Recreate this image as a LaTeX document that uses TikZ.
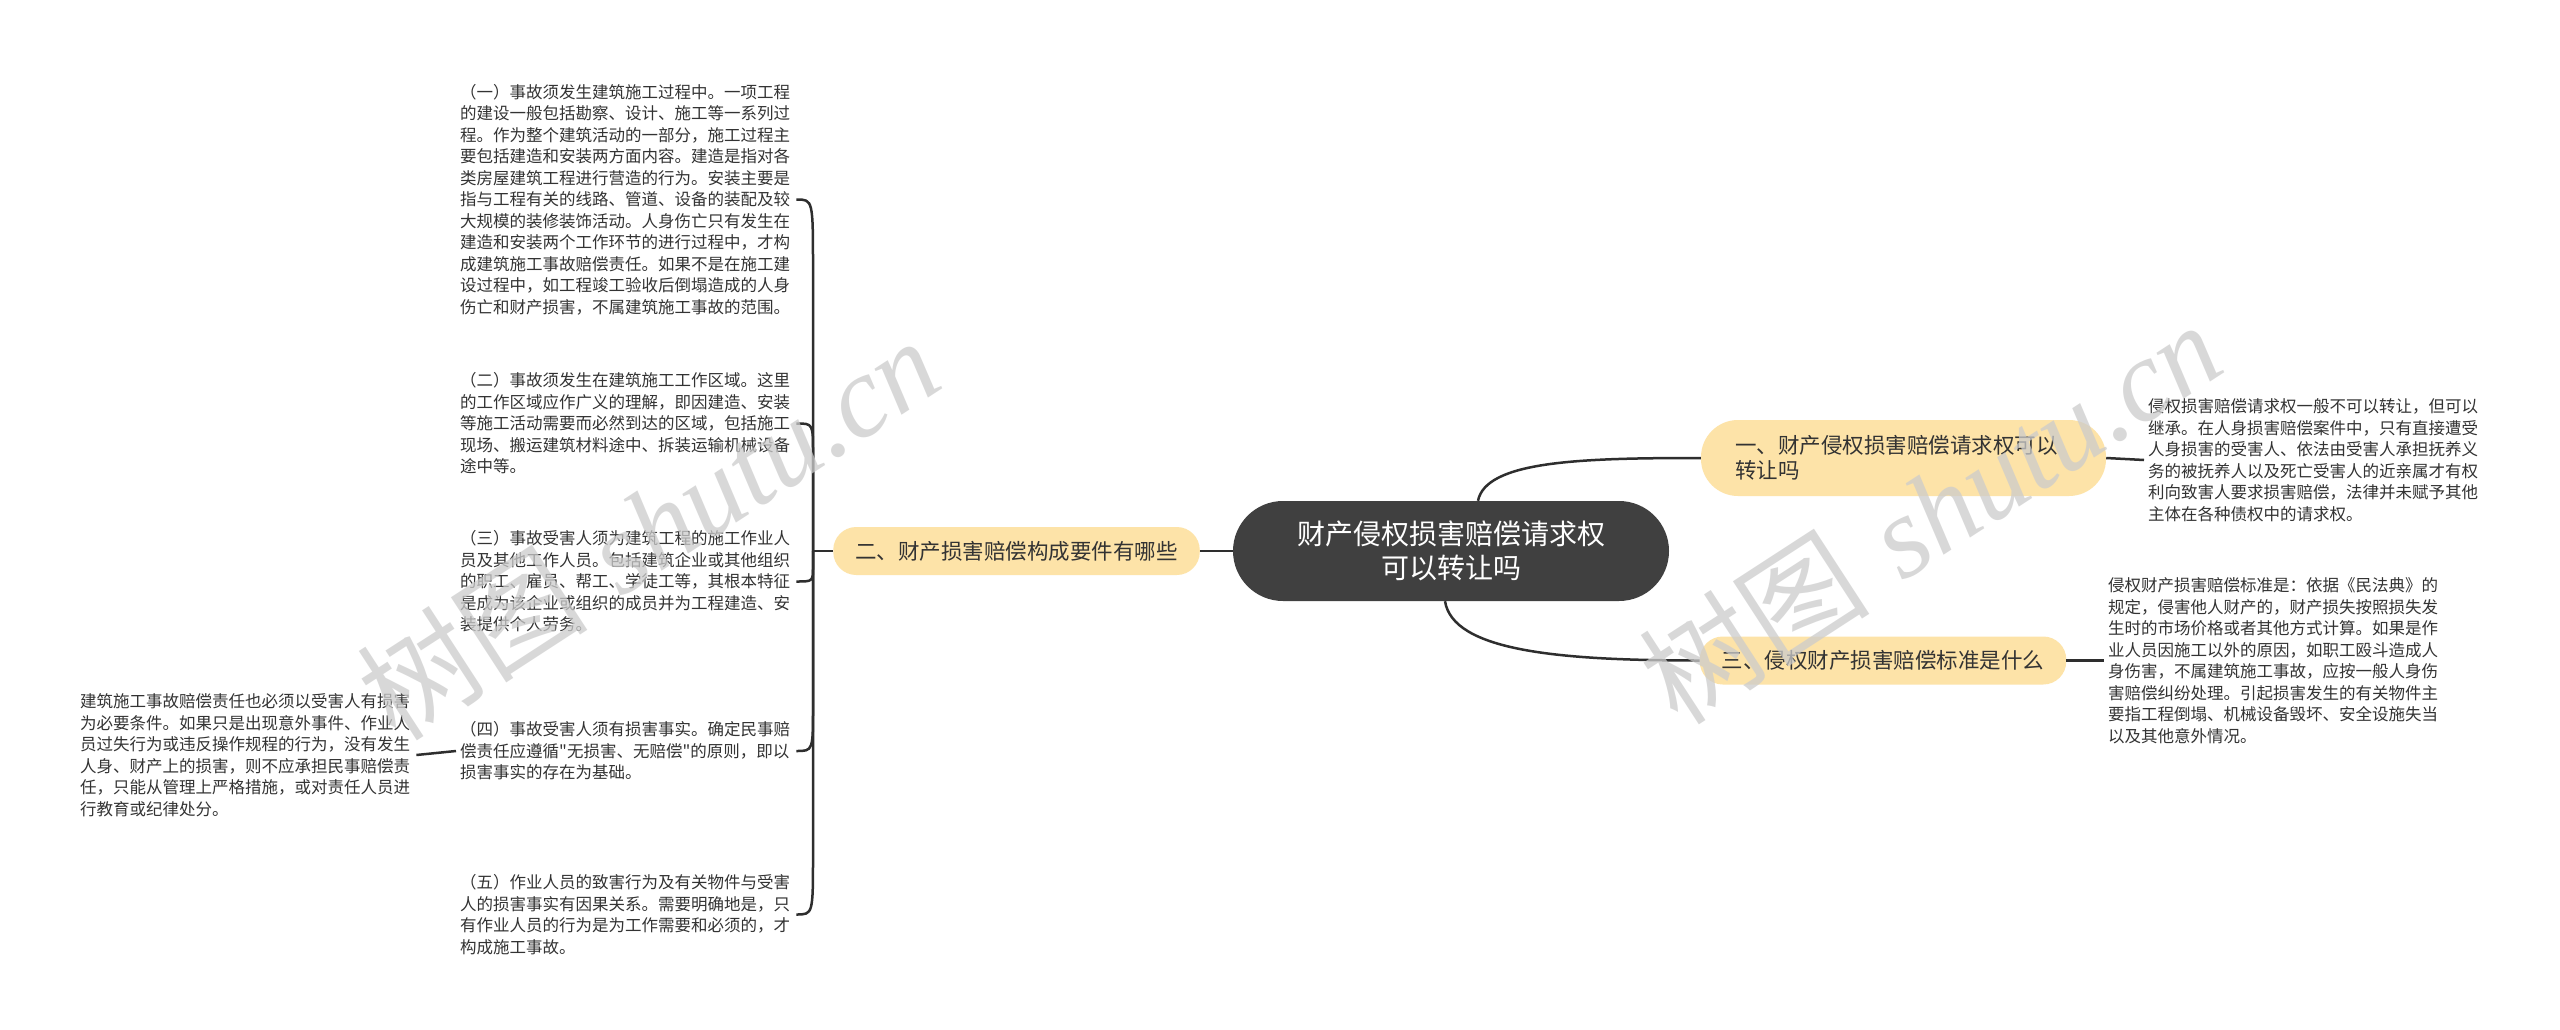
\documentclass[tikz,border=0pt]{standalone}
\usepackage{fontspec}
\usetikzlibrary{calc}
\newfontfamily\cjk{Noto Sans CJK SC}
\newfontfamily\wmfont{Liberation Serif}

\definecolor{rootgray}{HTML}{404040}
\definecolor{branchbg}{HTML}{FDE3A8}
\definecolor{linegray}{HTML}{2E2E2E}
\definecolor{textgray}{HTML}{333333}

\tikzset{
  root/.style={fill=rootgray, text=white, rounded corners=50pt, minimum width=436pt,
    minimum height=100pt, align=center, font=\cjk\fontsize{28}{34}\selectfont},
  branch/.style={fill=branchbg, text=textgray, rounded corners=23pt, minimum height=48pt,
    inner xsep=22pt, font=\cjk\fontsize{21.5}{25}\selectfont},
  leaf/.style={anchor=west, align=left, text width=332pt, inner xsep=4pt, inner ysep=0pt,
    text=textgray, font=\cjk\fontsize{16.5}{21.5}\selectfont},
  link/.style={draw=linegray, line width=2.5pt},
  wmark/.style={text=black!20, text opacity=0.75, rotate=33, font=\fontsize{116}{116}\selectfont}
}

% hook from the spine into a leaf; #2 = signed hook length
\newcommand\bracelink[2]{%
  \draw[link] (spine) -- ($(spine |- #1.east)+(0,#2)$) .. controls (spine |- #1.east) .. (#1.east);}

\begin{document}
\begin{tikzpicture}[x=1pt,y=-1pt]
\useasboundingbox (0,0) rectangle (2560,1030);
\fill[white] (0,0) rectangle (2560,1030);

\node[root] (root) at (1451,551) {财产侵权损害赔偿请求权\\可以转让吗};

\node[branch] (b2) at (1016.5,551) {二、财产损害赔偿构成要件有哪些};
\node[branch, rounded corners=37pt, minimum width=405pt, minimum height=76pt, text width=337pt,
  align=left] (b1) at (1903.5,458) {一、财产侵权损害赔偿请求权可以\\转让吗};
\node[branch] (b3) at (1883,660.5) {三、侵权财产损害赔偿标准是什么};

% left leaves
\node[leaf] (a1) at (456,199.5) {（一）事故须发生建筑施工过程中。一项工程\\的建设一般包括勘察、设计、施工等一系列过\\程。作为整个建筑活动的一部分，施工过程主\\要包括建造和安装两方面内容。建造是指对各\\类房屋建筑工程进行营造的行为。安装主要是\\指与工程有关的线路、管道、设备的装配及较\\大规模的装修装饰活动。人身伤亡只有发生在\\建造和安装两个工作环节的进行过程中，才构\\成建筑施工事故赔偿责任。如果不是在施工建\\设过程中，如工程竣工验收后倒塌造成的人身\\伤亡和财产损害，不属建筑施工事故的范围。};
\node[leaf] (a2) at (456,423.5) {（二）事故须发生在建筑施工工作区域。这里\\的工作区域应作广义的理解，即因建造、安装\\等施工活动需要而必然到达的区域，包括施工\\现场、搬运建筑材料途中、拆装运输机械设备\\途中等。};
\node[leaf] (a3) at (456,581.5) {（三）事故受害人须为建筑工程的施工作业人\\员及其他工作人员。包括建筑企业或其他组织\\的职工、雇员、帮工、学徒工等，其根本特征\\是成为该企业或组织的成员并为工程建造、安\\装提供个人劳务。};
\node[leaf] (a4) at (456,751) {（四）事故受害人须有损害事实。确定民事赔\\偿责任应遵循"无损害、无赔偿"的原则，即以\\损害事实的存在为基础。};
\node[leaf] (a5) at (456,914.5) {（五）作业人员的致害行为及有关物件与受害\\人的损害事实有因果关系。需要明确地是，只\\有作业人员的行为是为工作需要和必须的，才\\构成施工事故。};
\node[leaf] (a41) at (76,755) {建筑施工事故赔偿责任也必须以受害人有损害\\为必要条件。如果只是出现意外事件、作业人\\员过失行为或违反操作规程的行为，没有发生\\人身、财产上的损害，则不应承担民事赔偿责\\任，只能从管理上严格措施，或对责任人员进\\行教育或纪律处分。};

% right leaves
\node[leaf] (c1) at (2144,460) {侵权损害赔偿请求权一般不可以转让，但可以\\继承。在人身损害赔偿案件中，只有直接遭受\\人身损害的受害人、依法由受害人承担抚养义\\务的被抚养人以及死亡受害人的近亲属才有权\\利向致害人要求损害赔偿，法律并未赋予其他\\主体在各种债权中的请求权。};
\node[leaf] (c3) at (2104,660.5) {侵权财产损害赔偿标准是：依据《民法典》的\\规定，侵害他人财产的，财产损失按照损失发\\生时的市场价格或者其他方式计算。如果是作\\业人员因施工以外的原因，如职工殴斗造成人\\身伤害，不属建筑施工事故，应按一般人身伤\\害赔偿纠纷处理。引起损害发生的有关物件主\\要指工程倒塌、机械设备毁坏、安全设施失当\\以及其他意外情况。};

% connectors
\draw[link] (root.west) -- (b2.east);
\draw[link] ([xshift=27pt]root.north) .. controls +(8,-40) and +(-120,0) .. (b1.west);
\draw[link] ([xshift=-6pt]root.south) .. controls +(8,50) and +(-140,0) .. (b3.west);
\draw[link] (b1.east) -- (c1.west);
\draw[link] (b3.east) -- (c3.west);
\draw[link] (a41.east) -- (a4.west);

\coordinate (spine) at (813,551);
\draw[link] (b2.west) -- (spine);
\bracelink{a1}{70}
\bracelink{a2}{30}
\bracelink{a3}{-15}
\bracelink{a4}{-45}
\bracelink{a5}{-60}

% watermarks
\node[wmark] (wm1) at (648,528) {{\cjk 树图} {\wmfont\itshape shutu.cn}};
\node[wmark] (wm2) at (1930,512) {{\cjk 树图} {\wmfont\itshape shutu.cn}};
\end{tikzpicture}
\end{document}
